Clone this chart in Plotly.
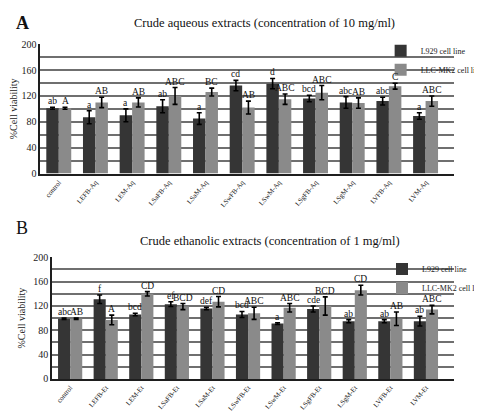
import plotly.graph_objects as go
import numpy as np

# ---------------- data ----------------
cats_aq = ["control", "LEFB-Aq", "LEM-Aq", "LSaFB-Aq", "LSaM-Aq", "LSwFB-Aq",
           "LSwM-Aq", "LSgFB-Aq", "LSgM-Aq", "LVFB-Aq", "LVM-Aq"]
l929_aq = [101, 87, 90, 104, 85, 136, 139, 116, 110, 112, 89]
l929_aq_err = [1.5, 10, 10, 10, 9, 8, 8, 5, 9, 6, 5]
llc_aq = [101, 110, 110, 120, 126, 102, 115, 125, 109, 135, 112]
llc_aq_err = [1.5, 8, 7, 13, 6, 10, 8, 11, 8, 4.5, 8]
let_l929_aq = ["ab", "a", "a", "ab", "a", "cd", "d", "bcd", "abc", "abc", "a"]
let_llc_aq = ["A", "AB", "AB", "ABC", "BC", "AB", "ABC", "ABC", "AB", "C", "ABC"]

cats_et = ["control", "LEFB-Et", "LEM-Et", "LSaFB-Et", "LSaM-Et", "LSwFB-Et",
           "LSwM-Et", "LSgFB-Et", "LSgM-Et", "LVFB-Et", "LVM-Et"]
l929_et = [99, 131, 106, 123, 116, 106, 91, 115, 95, 95, 95]
l929_et_err = [1, 7, 2, 4, 2, 5, 1.5, 5, 2.5, 2.5, 8]
llc_et = [99, 97, 140, 119, 127, 108, 117, 120, 146, 99, 114]
llc_et_err = [1, 8, 3.5, 5, 8.5, 10, 7, 15, 8, 11, 7]
let_l929_et = ["abc", "f", "bcd", "ef", "def", "bcd", "a", "cde", "ab", "ab", "ab"]
let_llc_et = ["AB", "A", "CD", "BCD", "CD", "ABC", "ABC", "BCD", "CD", "AB", "ABC"]

series_names = ["L929 cell line", "LLC-MK2 cell line"]
yticks = [0, 40, 80, 120, 160, 200]

# ---------------- style ----------------
C_DARK = "#353535"
C_GRAY = "#8a8a8a"
GRID = "#6f6f6f"
SERIF = "Liberation Serif"
W, H = 482, 412
PAGE_OFF = 8  # default body margin of the html page
BARGAP = 0.32

fig = go.Figure()

panels = [
    dict(cats=cats_aq, a=l929_aq, ae=l929_aq_err, b=llc_aq, be=llc_aq_err,
         la=let_l929_aq, lb=let_llc_aq, xa="x", ya="y", leg="legend"),
    dict(cats=cats_et, a=l929_et, ae=l929_et_err, b=llc_et, be=llc_et_err,
         la=let_l929_et, lb=let_llc_et, xa="x2", ya="y2", leg="legend2"),
]

off = (1 - BARGAP) / 4.0
annotations = []
for p in panels:
    xs = np.arange(len(p["cats"]))
    for vals, errs, col, name, lets, sgn in [
        (p["a"], p["ae"], C_DARK, series_names[0], p["la"], -1),
        (p["b"], p["be"], C_GRAY, series_names[1], p["lb"], 1),
    ]:
        fig.add_trace(go.Bar(
            x=xs, y=vals, name=name, marker_color=col, marker_line_width=0,
            error_y=dict(type="data", array=errs, color="black", thickness=1.6, width=2.5),
            xaxis=p["xa"], yaxis=p["ya"], legend=p["leg"],
        ))
        for i, (v, e, t) in enumerate(zip(vals, errs, lets)):
            annotations.append(dict(
                x=xs[i] + sgn * off, y=v + e, xref=p["xa"], yref=p["ya"],
                text=t, showarrow=False, xanchor="center", yanchor="bottom", yshift=-1,
                font=dict(family=SERIF, size=9.5, color="#111"),
            ))

# page pixels -> paper (figure sits 8px into the page)
def px_x(v):
    return min(1.0, (v - PAGE_OFF) / W)

def px_y(v):
    return 1 - (v - PAGE_OFF) / H

axis_common = dict(showline=True, linecolor="#1e1e1e", linewidth=2, ticks="",
                   zeroline=False)
ytitle_font = dict(family=SERIF, size=10, color="#222")

# plot areas: left edge, pixels per category, right edge (runs to the page edge)
A_LEFT, A_STEP = 39, 40.0
B_LEFT, B_STEP = 52, 38.8
RIGHT = 490

fig.update_layout(
    width=W, height=H, autosize=False,
    margin=dict(l=0, r=0, t=0, b=0),
    paper_bgcolor="white", plot_bgcolor="white",
    barmode="group", bargap=BARGAP, bargroupgap=0,
    xaxis=dict(domain=[px_x(A_LEFT), px_x(RIGHT)], anchor="y",
               range=[-0.5, -0.5 + (RIGHT - A_LEFT) / A_STEP],
               tickvals=list(range(len(cats_aq))), ticktext=cats_aq, tickangle=-50,
               tickfont=dict(family=SERIF, size=7, color="#222"), showgrid=False,
               **axis_common),
    yaxis=dict(domain=[px_y(173), px_y(40)], anchor="x", range=[0, 200],
               tickvals=yticks, showgrid=True, gridcolor=GRID, gridwidth=2,
               minor=dict(dtick=20, tick0=0, showgrid=True, gridcolor=GRID, gridwidth=2),
               tickfont=dict(family=SERIF, size=10, color="#222"),
               title=dict(text="%Cell viability", font=ytitle_font, standoff=6),
               **axis_common),
    xaxis2=dict(domain=[px_x(B_LEFT), px_x(RIGHT)], anchor="y2",
                range=[-0.5, -0.5 + (RIGHT - B_LEFT) / B_STEP],
                tickvals=list(range(len(cats_et))), ticktext=cats_et, tickangle=-50,
                tickfont=dict(family=SERIF, size=7, color="#222"), showgrid=False,
                **axis_common),
    yaxis2=dict(domain=[px_y(384), px_y(259)], anchor="x2", range=[0, 200],
                tickvals=yticks, showgrid=True, gridcolor=GRID, gridwidth=2,
                minor=dict(dtick=20, tick0=0, showgrid=True, gridcolor=GRID, gridwidth=2),
                tickfont=dict(family=SERIF, size=10, color="#222"),
                title=dict(text="%Cell viability", font=ytitle_font, standoff=6),
                **axis_common),
    legend=dict(x=px_x(410), y=px_y(32), xanchor="left", yanchor="top",
                bgcolor="rgba(0,0,0,0)", font=dict(family=SERIF, size=8, color="#222"),
                itemwidth=30, tracegroupgap=0),
    legend2=dict(x=px_x(412), y=px_y(256), xanchor="left", yanchor="top",
                 bgcolor="rgba(0,0,0,0)", font=dict(family=SERIF, size=8, color="#222"),
                 itemwidth=30, tracegroupgap=0),
    showlegend=True,
)

annotations += [
    dict(x=px_x(19), y=px_y(18), xref="paper", yref="paper", text="<b>A</b>",
         xanchor="center", yanchor="middle",
         showarrow=False, font=dict(family=SERIF, size=18, color="#111")),
    dict(x=px_x(283), y=px_y(18), xref="paper", yref="paper",
         text="Crude aqueous extracts (concentration of 10 mg/ml)",
         xanchor="center", yanchor="middle",
         showarrow=False, font=dict(family=SERIF, size=12.5, color="#111")),
    dict(x=px_x(19), y=px_y(229), xref="paper", yref="paper", text="B",
         xanchor="center", yanchor="middle",
         showarrow=False, font=dict(family=SERIF, size=18, color="#111")),
    dict(x=px_x(289), y=px_y(242), xref="paper", yref="paper",
         text="Crude ethanolic extracts (concentration of 1 mg/ml)",
         xanchor="center", yanchor="middle",
         showarrow=False, font=dict(family=SERIF, size=12.5, color="#111")),
]
fig.update_layout(annotations=annotations)

fig.write_html("out.html")
